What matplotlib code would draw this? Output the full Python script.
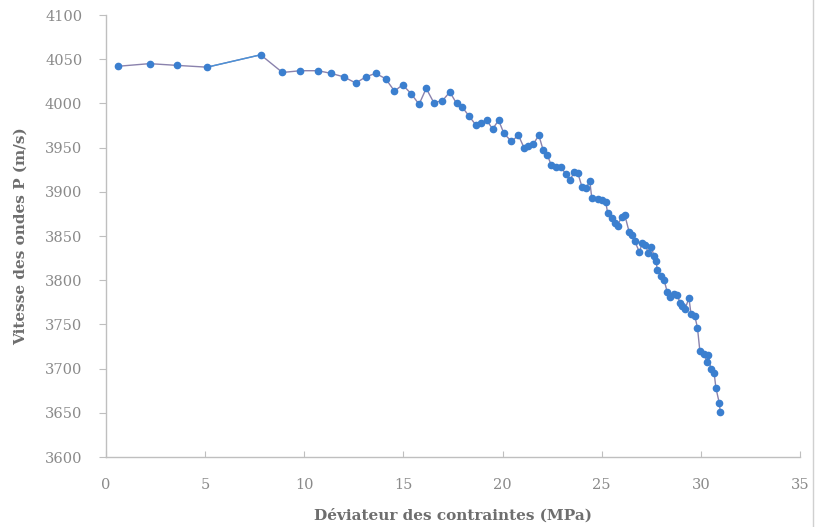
import matplotlib
matplotlib.use("Agg")
import matplotlib.pyplot as plt
from matplotlib.lines import Line2D

deviator = [0.6, 2.2, 3.6, 5.1, 7.8, 8.9, 9.8, 10.7, 11.35, 12.0, 12.6, 13.1, 13.6, 14.1,
            14.55, 14.96, 15.39, 15.79, 16.15, 16.53, 16.97, 17.34, 17.68, 17.96, 18.3,
            18.64, 18.9, 19.2, 19.5, 19.8, 20.07, 20.45, 20.8, 21.08, 21.3, 21.55, 21.83,
            22.05, 22.25, 22.46, 22.7, 22.96, 23.18, 23.4, 23.6, 23.8, 24.0, 24.2, 24.4,
            24.5, 24.8, 25.0, 25.2, 25.3, 25.5, 25.66, 25.8, 26.0, 26.16, 26.38, 26.55,
            26.67, 26.9, 27.05, 27.2, 27.35, 27.5, 27.64, 27.75, 27.8, 28.0, 28.15, 28.3,
            28.45, 28.65, 28.82, 28.95, 29.07, 29.2, 29.4, 29.5, 29.7, 29.83, 29.95, 30.17,
            30.3, 30.38, 30.5, 30.67, 30.76, 30.93, 30.98]
velocity = [4042, 4045, 4043, 4041, 4055, 4035, 4037, 4037, 4034, 4030, 4023, 4030, 4034, 4028,
            4014, 4021, 4011, 3999, 4017, 4001, 4003, 4013, 4000, 3996, 3986,
            3976, 3978, 3981, 3971, 3981, 3966, 3957, 3964, 3950, 3952, 3954, 3964,
            3947, 3942, 3930, 3928, 3928, 3920, 3913, 3922, 3921, 3906, 3904, 3912,
            3893, 3892, 3891, 3889, 3876, 3870, 3865, 3861, 3872, 3874, 3855, 3851,
            3844, 3832, 3842, 3840, 3831, 3838, 3827, 3822, 3811, 3805, 3800, 3787,
            3781, 3784, 3783, 3774, 3771, 3767, 3780, 3762, 3759, 3746, 3720, 3716,
            3708, 3715, 3700, 3695, 3678, 3661, 3651]

x_ticks = [0, 5, 10, 15, 20, 25, 30, 35]
y_ticks = [3600, 3650, 3700, 3750, 3800, 3850, 3900, 3950, 4000, 4050, 4100]
x_label = "Déviateur des contraintes (MPa)"
y_label = "Vitesse des ondes P (m/s)"

plt.rcParams['font.family'] = ['DejaVu Serif']

fig = plt.figure(figsize=(8.15, 5.27), dpi=100)
ax = fig.add_axes([0.130, 0.1328, 0.8516, 0.8387])

grey = '#bfbfbf'
txt = '#8a8a8a'

ax.plot(deviator, velocity, color='#8a82ad', lw=1.0, zorder=2)
ax.plot(deviator[3:5], velocity[3:5], color='#4a92d8', lw=1.0, zorder=2)
ax.plot(deviator, velocity, linestyle='none', marker='o', ms=4.5,
        markerfacecolor='#3b7fcf', markeredgecolor='#3b7fcf', zorder=3)

ax.set_xlim(0, 35)
ax.set_ylim(3600, 4100)
ax.set_xticks(x_ticks)
ax.set_yticks(y_ticks)

for s in ['top', 'right']:
    ax.spines[s].set_visible(False)
for s in ['left', 'bottom']:
    ax.spines[s].set_color(grey)
    ax.spines[s].set_linewidth(1.0)

ax.tick_params(axis='y', direction='out', length=5, color=grey, labelcolor=txt,
               labelsize=10.5, pad=12)
ax.tick_params(axis='x', direction='in', length=4, color=grey, labelcolor=txt,
               labelsize=10.5, pad=15)

ax.set_xlabel(x_label, fontsize=11, fontweight='bold', color='#6e6e6e', labelpad=12)
ax.set_ylabel(y_label, fontsize=11, fontweight='bold', color='#6e6e6e', labelpad=12)

fig.add_artist(Line2D([0.997, 0.997], [0.0, 1.0], transform=fig.transFigure,
                      color='#d0d0d0', lw=1.0))

fig.savefig('out.png', dpi=100, facecolor='white')
